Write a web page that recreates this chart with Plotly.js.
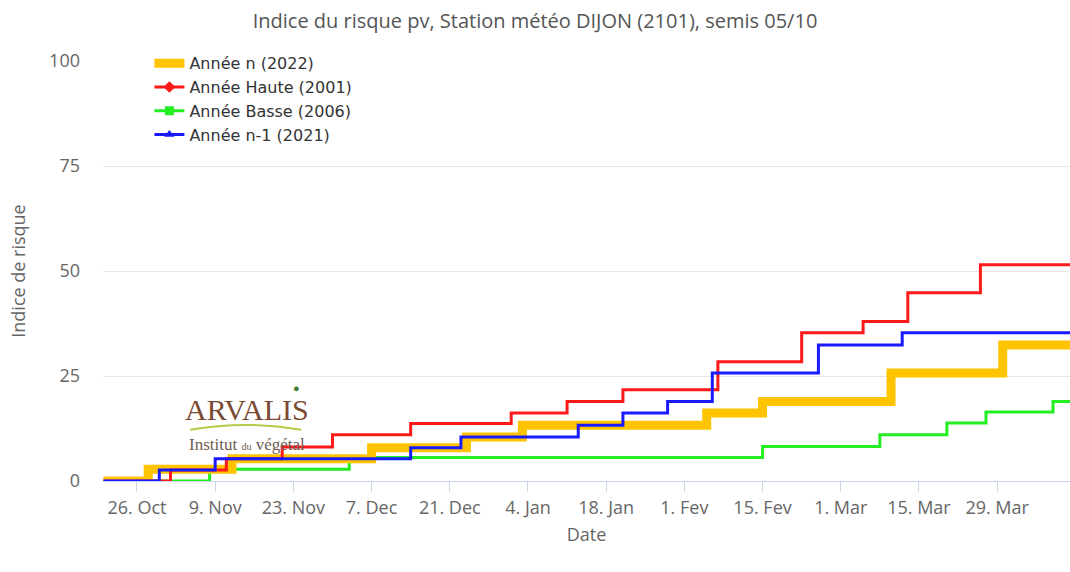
<!DOCTYPE html>
<html>
<head>
<meta charset="utf-8">
<script src="https://cdn.plot.ly/plotly-3.0.1.min.js"></script>
<style>
  html, body { margin: 0; padding: 0; background: #ffffff; }
  #chart { width: 1070px; height: 572px; }
</style>
</head>
<body>
<div id="chart"></div>
<script>
// ---- Data ----
const seriesNames = ["Année n (2022)", "Année Haute (2001)", "Année Basse (2006)", "Année n-1 (2021)"];

const dates2022 = ["2022-10-20", "2022-10-28", "2022-11-12", "2022-12-07", "2022-12-24", "2023-01-03", "2023-02-05", "2023-02-15", "2023-03-10", "2023-03-30", "2023-04-12"];
const values2022 = [0, 2.8, 5.3, 7.9, 10.5, 13.3, 16.2, 18.9, 25.7, 32.4, 32.4];

const dates2001 = ["2022-10-20", "2022-11-01", "2022-11-11", "2022-11-21", "2022-11-30", "2022-12-14", "2023-01-01", "2023-01-11", "2023-01-21", "2023-02-07", "2023-02-22", "2023-03-05", "2023-03-13", "2023-03-26", "2023-04-12"];
const values2001 = [0, 2.6, 5.3, 8.1, 11.0, 13.7, 16.2, 18.9, 21.7, 28.4, 35.3, 38.0, 44.8, 51.5, 51.5];

const dates2006 = ["2022-10-20", "2022-11-08", "2022-12-03", "2023-02-15", "2023-03-08", "2023-03-20", "2023-03-27", "2023-04-08", "2023-04-12"];
const values2006 = [0, 2.8, 5.6, 8.2, 11.0, 13.8, 16.4, 18.9, 18.9];

const dates2021 = ["2022-10-20", "2022-10-30", "2022-11-09", "2022-12-14", "2022-12-23", "2023-01-13", "2023-01-21", "2023-01-29", "2023-02-06", "2023-02-25", "2023-03-12", "2023-04-12"];
const values2021 = [0, 2.6, 5.3, 7.9, 10.5, 13.3, 16.2, 18.9, 25.7, 32.4, 35.3, 35.3];

const tickDates = ["2022-10-26", "2022-11-09", "2022-11-23", "2022-12-07", "2022-12-21", "2023-01-04", "2023-01-18", "2023-02-01", "2023-02-15", "2023-03-01", "2023-03-15", "2023-03-29"];
const tickLabels = ["26. Oct", "9. Nov", "23. Nov", "7. Dec", "21. Dec", "4. Jan", "18. Jan", "1. Fev", "15. Fev", "1. Mar", "15. Mar", "29. Mar"];
const yTicks = [0, 25, 50, 75, 100];

// ---- Styles ----
const FONT = "Open Sans, Noto Sans, sans-serif";
const colors = ["#ffc400", "#ff1a1a", "#22ee22", "#1a1aff"];
const widths = [9, 3, 3, 3];
const symbols = ["square", "diamond", "square", "triangle-up"];

const allDates = [dates2022, dates2001, dates2006, dates2021];
const allValues = [values2022, values2001, values2006, values2021];

const drawOrder = [2, 0, 1, 3];
const traces = [];
drawOrder.forEach(i => {
  traces.push({
    type: "scatter", mode: "lines",
    x: allDates[i], y: allValues[i],
    line: { color: colors[i], width: widths[i], shape: "hv" },
    name: seriesNames[i], showlegend: false, hoverinfo: "x+y+name"
  });
});
// legend entries
[0, 1, 2, 3].forEach(i => {
  traces.push({
    type: "scatter",
    mode: i === 0 ? "lines" : "lines+markers",
    x: [null], y: [null],
    line: { color: colors[i], width: i === 0 ? 9 : 3 },
    marker: { color: colors[i], symbol: symbols[i], size: 9 },
    name: seriesNames[i], showlegend: true
  });
});

const layout = {
  width: 1070, height: 572,
  paper_bgcolor: "#ffffff", plot_bgcolor: "#ffffff",
  margin: { l: 103, r: 0, t: 61, b: 91, pad: 0 },
  font: { family: FONT, color: "#666666", size: 17 },
  title: {
    text: "Indice du risque pv, Station météo DIJON (2101), semis 05/10",
    font: { family: FONT, size: 20, color: "#555555" },
    x: 0.5, xanchor: "center", y: 0.963, yanchor: "middle", xref: "container", yref: "container"
  },
  xaxis: {
    type: "date",
    range: ["2022-10-19 22:00", "2023-04-11 01:00"],
    tickmode: "array", tickvals: tickDates, ticktext: tickLabels,
    ticks: "outside", ticklen: 10, tickcolor: "#ccd6eb", tickwidth: 1,
    showline: true, linecolor: "#ccd6eb", linewidth: 1,
    showgrid: false, zeroline: false,
    tickfont: { family: FONT, size: 18, color: "#666666" },
    title: { text: "Date", font: { family: FONT, size: 18, color: "#666666" }, standoff: 10 }
  },
  yaxis: {
    range: [0, 100],
    tickmode: "array", tickvals: yTicks,
    showgrid: true, gridcolor: "#e6e6e6", gridwidth: 1,
    zeroline: false, showline: false,
    ticks: "", ticklabelstandoff: 22,
    tickfont: { family: FONT, size: 18, color: "#666666" },
    title: { text: "Indice de risque", font: { family: FONT, size: 18, color: "#666666" }, standoff: 18 }
  },
  legend: {
    x: 0.048, y: 1.035, xanchor: "left", yanchor: "top",
    bgcolor: "rgba(255,255,255,0)",
    font: { family: "DejaVu Sans, sans-serif", size: 16, color: "#333333" },
    tracegroupgap: 0, itemwidth: 30
  },
  shapes: [
    { type: "path", xref: "paper", yref: "paper",
      path: "M 0.09 0.122 Q 0.147 0.145 0.205 0.122",
      line: { color: "#b5cc4a", width: 2 } }
  ],
  annotations: [
    { text: "ARVALIS", xref: "paper", yref: "paper", x: 0.149, y: 0.17, xanchor: "center", yanchor: "middle",
      showarrow: false, font: { family: "Liberation Serif, DejaVu Serif, serif", size: 30, color: "#7b4a35" } },
    { text: "Institut <span style='font-size:10px'>du</span> végétal", xref: "paper", yref: "paper", x: 0.149, y: 0.087, xanchor: "center", yanchor: "middle",
      showarrow: false, font: { family: "Liberation Serif, DejaVu Serif, serif", size: 17, color: "#6e5c52" } },
    { text: "●", xref: "paper", yref: "paper", x: 0.2, y: 0.222, xanchor: "center", yanchor: "middle",
      showarrow: false, font: { size: 11, color: "#3f7f2a" } }
  ]
};

Plotly.newPlot("chart", traces, layout, { displayModeBar: false, responsive: false });
</script>
</body>
</html>
